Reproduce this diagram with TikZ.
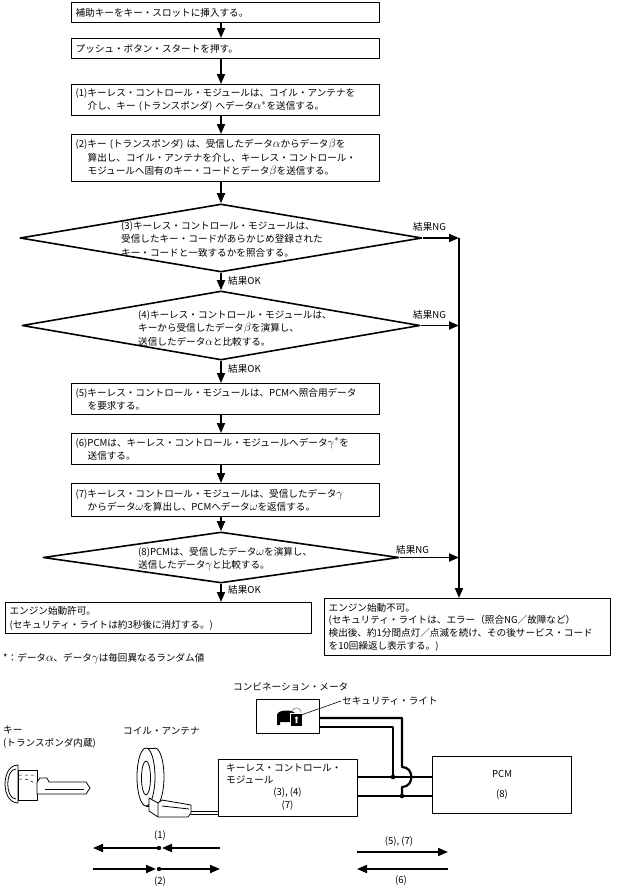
\documentclass[tikz,border=0pt]{standalone}
\usepackage{fontspec}
\setmainfont{Noto Sans CJK JP}
\usetikzlibrary{arrows.meta,shapes.geometric}
\tikzset{
  stepbox/.style={draw, line width=1.3pt, anchor=north west, text width=300pt, inner xsep=4pt, inner ysep=0pt, align=left},
  decision/.style={draw, diamond, line width=1.6pt, inner sep=0pt},
  flow/.style={->, line width=1.8pt},
  txt/.style={inner sep=1pt, align=left},
  unit/.style={draw, line width=1.1pt, anchor=north west, inner sep=0pt},
  wire/.style={line width=2.2pt},
}
\newcommand{\hind}{\hspace*{1.25em}}
\newcommand{\gr}[1]{{\fontsize{12.5}{12.5}\selectfont$#1$}}
\begin{document}
\begin{tikzpicture}[x=1pt, y=-1pt, font=\fontsize{9.6}{13.5}\selectfont, line join=round, >={Triangle[length=10pt,width=8pt]}]
\useasboundingbox (0,0) rectangle (616,889);
\path (221,0) coordinate (ax) (459,238) coordinate (bus);
% flow
\node[stepbox, minimum height=20pt] (s1) at (71,2) {補助キーをキー・スロットに挿入する。};
\node[stepbox, minimum height=20pt] (s2) at (71,38) {プッシュ・ボタン・スタートを押す。};
\node[stepbox, minimum height=31pt] (s3) at (71,84) {(1)キーレス・コントロール・モジュールは、コイル・アンテナを\\\hind 介し、キー (トランスポンダ) へデータ\gr{\alpha^{*}}を送信する。};
\node[stepbox, minimum height=47pt] (s4) at (71,134) {(2)キー (トランスポンダ) は、受信したデータ\gr{\alpha}からデータ\gr{\beta}を\\\hind 算出し、コイル・アンテナを介し、キーレス・コントロール・\\\hind モジュールへ固有のキー・コードとデータ\gr{\beta}を送信する。};
\node[decision, minimum width=402pt, minimum height=68pt] (d3) at (221,238) {};
\node[txt, anchor=west] (d3txt) at (120,239) {(3)キーレス・コントロール・モジュールは、\\受信したキー・コードがあらかじめ登録された\\キー・コードと一致するかを照合する。};
\node[decision, minimum width=398pt, minimum height=69pt] (d4) at (221,325.5) {};
\node[txt, anchor=west] (d4txt) at (137,328) {(4)キーレス・コントロール・モジュールは、\\キーから受信したデータ\gr{\beta}を演算し、\\送信したデータ\gr{\alpha}と比較する。};
\node[stepbox, minimum height=31pt] (s5) at (71,383) {(5)キーレス・コントロール・モジュールは、PCMへ照合用データ\\\hind を要求する。};
\node[stepbox, minimum height=31pt] (s6) at (71,433) {(6)PCMは、キーレス・コントロール・モジュールへデータ\gr{\gamma^{*}}を\\\hind 送信する。};
\node[stepbox, minimum height=33pt] (s7) at (71,483) {(7)キーレス・コントロール・モジュールは、受信したデータ\gr{\gamma}\\\hind からデータ\gr{\omega}を算出し、PCMへデータ\gr{\omega}を返信する。};
\node[decision, minimum width=356pt, minimum height=51pt] (d8) at (221,557.5) {};
\node[txt, anchor=west] (d8txt) at (137,559) {(8)PCMは、受信したデータ\gr{\omega}を演算し、\\送信したデータ\gr{\gamma}と比較する。};
\node[stepbox, text width=298pt, minimum height=31pt] (go) at (5,602) {エンジン始動許可。\\(セキュリティ・ライトは約3秒後に消灯する。)};
\node[stepbox, text width=278pt, minimum height=57pt, font=\fontsize{9.6}{12.7}\selectfont] (stop) at (324,598) {エンジン始動不可。\\(セキュリティ・ライトは、エラー（照合NG／故障など）\\検出後、約1分間点灯／点滅を続け、その後サービス・コード\\を10回繰返し表示する。)};
\foreach \a/\b in {s1/s2,s2/s3,s3/s4,s4/d3,d3/d4,d4/s5,s5/s6,s6/s7,s7/d8,d8/go}
  \draw[flow] (\a.south -| ax) -- (\b.north -| ax);
\foreach \d in {d3,d4,d8} \draw[flow] (\d.east) -- (\d.east -| bus);
\draw[flow] (bus) -- (bus |- stop.north);
\foreach \n/\x/\y in {ok3/227/281,ok4/227/369,ok8/227/590} \node[txt, anchor=west] (\n) at (\x,\y) {結果OK};
\foreach \n/\x/\y in {ng3/412/227,ng4/412/315,ng8/395/550} \node[txt, anchor=west] (\n) at (\x,\y) {結果NG};
\node[txt, anchor=west] (note) at (2,659) {*：データ\gr{\alpha}、データ\gr{\gamma}は毎回異なるランダム値};
% units
\node[txt, anchor=west, font=\fontsize{9.6}{13}\selectfont] (keylbl) at (2,737.5) {キー\\(トランスポンダ内蔵)};
\node[txt, anchor=west] (coillbl) at (122,731) {コイル・アンテナ};
\node[txt, anchor=west] (meterlbl) at (232,687) {コンビネーション・メータ};
\node[txt, anchor=west] (lightlbl) at (341,701) {セキュリティ・ライト};
\node[unit, minimum width=63pt, minimum height=34pt] (meter) at (256,699) {};
\node[unit, minimum width=139pt, minimum height=57pt] (kcm) at (218,759) {};
\node[txt, anchor=west, font=\fontsize{9.6}{12}\selectfont] (kcmtxt) at (225,774) {キーレス・コントロール・\\モジュール};
\node[txt, align=center] (kcmno) at (287.5,799) {(3), (4)\\(7)};
\node[unit, minimum width=139pt, minimum height=57pt, align=center] (pcm) at (432,756) {PCM\\[6pt](8)};
% wires
\path (0,718) coordinate (m1) (0,727) coordinate (m2) (0,777) coordinate (w1) (0,796) coordinate (w2)
  (393,777) coordinate (j1) (402,796) coordinate (j2);
\draw[wire] (kcm.east |- w1) -- (pcm.west |- w1);
\draw[wire] (kcm.east |- w2) -- (pcm.west |- w2);
\draw[wire] (meter.east |- m2) -| (j1);
\draw[wire] (meter.east |- m1) -| (402,767) .. controls (414.5,767) and (414.5,787) .. (402,787) -- (j2);
\fill (j1) circle (2.3pt) (j2) circle (2.3pt);
% security light
\fill (277,725) -- (277,715) .. controls (277,709) and (296,709) .. (296,715) -- (296,725) -- (293,725) -- (293,722) -- (280,722) -- (280,725) -- cycle;
\draw[gray, line width=0.6pt] (292,713) .. controls (292,706) and (301,706) .. (301,713);
\fill[white] (290,713) rectangle (303,727);
\fill (291,714) rectangle (302,726);
\fill[white] (296.5,718) circle (1.6pt) (295.7,718) rectangle (297.3,723);
\draw[line width=0.6pt] (301,715) -- (lightlbl.west);
% key
\begin{scope}[line width=0.8pt]
\draw[fill=white] (18,765) .. controls (0.7,765) and (0.7,803) .. (18,803) -- cycle;
\draw (16,769) .. controls (5,769) and (5,799) .. (16,799);
\draw[fill=white] (18,770) rectangle (37,800);
\draw[dashed, line width=0.5pt] (19,775) -- (36,775) (19,779) .. controls (28,779) .. (36,784);
\draw[fill=white] (37,782) -- (40,778) -- (47,778) -- (49,782) -- (86,782) -- (90,788) -- (86,794) -- (37,794) -- cycle;
\draw (45,789) -- (84,789);
\end{scope}
% coil antenna
\begin{scope}[line width=0.8pt]
\draw[fill=white] (155,777) ellipse [x radius=9, y radius=29];
\fill[white] (146,748) rectangle (155,806);
\draw (146,748) -- (155,748) (146,806) -- (155,806);
\draw[fill=white] (146,777) ellipse [x radius=9, y radius=29];
\draw (146,778) ellipse [x radius=4.5, y radius=17];
\draw[fill=white] (149,798) -- (149,811) -- (158,817) -- (188,817) -- (191,813) -- (191,805) -- (162,800) -- (158,803) -- cycle;
\draw (158,803) -- (158,817) (162,806) -- (189,809);
\draw[line width=1pt] (191,811) -- (kcm.west |- 0,811) (191,814) -- (kcm.west |- 0,814);
\end{scope}
% transfer arrows
\path (93,848) coordinate (t1l) (159,848) coordinate (t1m) (220,848) coordinate (t1r)
  (93,869) coordinate (t2l) (159,869) coordinate (t2m) (220,869) coordinate (t2r)
  (357,852) coordinate (t5l) (448,852) coordinate (t5r) (357,869) coordinate (t6l) (448,869) coordinate (t6r);
\draw[flow] (t1r) -- ([xshift=3pt]t1m);
\draw[flow] (t1m) -- (t1l);
\draw[flow] (t2l) -- ([xshift=-3pt]t2m);
\draw[flow] (t2m) -- (t2r);
\fill (t1m) circle (2.2pt) (t2m) circle (2.2pt);
\draw[flow] (t5l) -- (t5r);
\draw[flow] (t6r) -- (t6l);
\node[txt] (lbl1) at (160,836) {(1)};
\node[txt] (lbl2) at (160,882) {(2)};
\node[txt] (lbl57) at (399,842) {(5), (7)};
\node[txt] (lbl6) at (401,881) {(6)};
\end{tikzpicture}
\end{document}
